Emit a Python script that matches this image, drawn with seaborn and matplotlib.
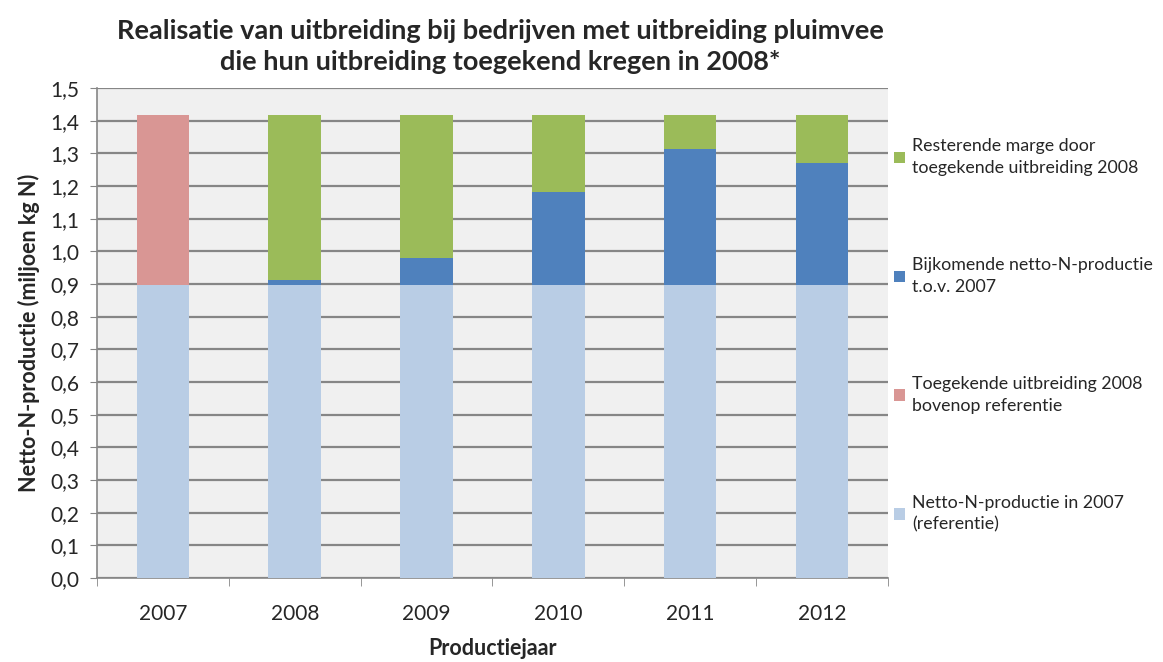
import matplotlib
matplotlib.use("Agg")
import matplotlib.pyplot as plt
import seaborn as sns
import numpy as np
import pandas as pd
from matplotlib.patches import Patch

years = ["2007", "2008", "2009", "2010", "2011", "2012"]
referentie = [0.897, 0.897, 0.897, 0.897, 0.897, 0.897]
toegekend = [0.520, 0.0, 0.0, 0.0, 0.0, 0.0]
bijkomend = [0.0, 0.015, 0.083, 0.285, 0.416, 0.374]
resterend = [0.0, 0.505, 0.437, 0.235, 0.104, 0.146]

labels = [
    "Netto-N-productie in 2007\n(referentie)",
    "Toegekende uitbreiding 2008\nbovenop referentie",
    "Bijkomende netto-N-productie\nt.o.v. 2007",
    "Resterende marge door\ntoegekende uitbreiding 2008",
]
colors = ["#B9CDE5", "#D99694", "#4F81BD", "#9BBB59"]
yticks = [0.0, 0.1, 0.2, 0.3, 0.4, 0.5, 0.6, 0.7, 0.8, 0.9, 1.0, 1.1, 1.2, 1.3, 1.4, 1.5]

sns.set_style("white")
plt.rcParams["font.family"] = ["Lato", "DejaVu Sans"]

layers = [referentie, toegekend, bijkomend, resterend]
cum = np.cumsum(np.array(layers), axis=0)

fig = plt.figure(figsize=(11.63, 6.62), dpi=100)
ax = fig.add_axes([0.0834, 0.127, 0.68, 0.74])
ax.set_facecolor("#F0F0F0")

# draw from top of stack down so lower layers overlay
for i in range(len(layers) - 1, -1, -1):
    df = pd.DataFrame({"jaar": years, "waarde": cum[i]})
    sns.barplot(data=df, x="jaar", y="waarde", color=colors[i], width=0.4,
                saturation=1, ax=ax, zorder=3, linewidth=0)

ax.set_ylim(0, 1.5)
ax.set_xlim(-0.5, 5.5)
ax.set_yticks(yticks)
ax.set_yticklabels([f"{v:.1f}".replace(".", ",") for v in yticks], fontsize=15)
ax.yaxis.grid(True, color="#868686", linewidth=1.6, zorder=0)
ax.set_axisbelow(True)
ax.tick_params(axis="y", length=5, color="#868686", direction="out", left=True, pad=8)

# x ticks at category boundaries (Excel style)
ax.set_xticks(range(len(years)))
ax.set_xticklabels(years, fontsize=15)
ax.tick_params(axis="x", length=0, pad=19)
ax.set_xticks(np.arange(-0.5, 6.0, 1.0), minor=True)
ax.tick_params(axis="x", which="minor", length=6, color="#868686", direction="out", bottom=True)

for s in ["top", "right"]:
    ax.spines[s].set_visible(False)
for s in ["left", "bottom"]:
    ax.spines[s].set_color("#868686")
    ax.spines[s].set_linewidth(1.2)

ax.set_xlabel("Productiejaar", fontsize=15.5, fontweight="bold", labelpad=10)
ax.set_ylabel("Netto-N-productie (miljoen kg N)", fontsize=15.5, fontweight="bold", labelpad=7)

fig.text(0.43, 0.972, "Realisatie van uitbreiding bij bedrijven met uitbreiding pluimvee\n"
         "die hun uitbreiding toegekend kregen in 2008*",
         ha="center", va="top", fontsize=19.5, fontweight="bold", linespacing=1.35)

handles = [Patch(facecolor=colors[i], edgecolor="none") for i in range(3, -1, -1)]
leg_labels = [labels[i] for i in range(3, -1, -1)]
leg = fig.legend(handles, leg_labels, loc="upper left", bbox_to_anchor=(0.755, 0.815),
                 frameon=False, fontsize=12.8, handlelength=0.6, handleheight=0.6,
                 handletextpad=0.4, labelspacing=4.55)
for t in leg.get_texts():
    t.set_linespacing(1.45)

fig.savefig("out.png", dpi=100)
